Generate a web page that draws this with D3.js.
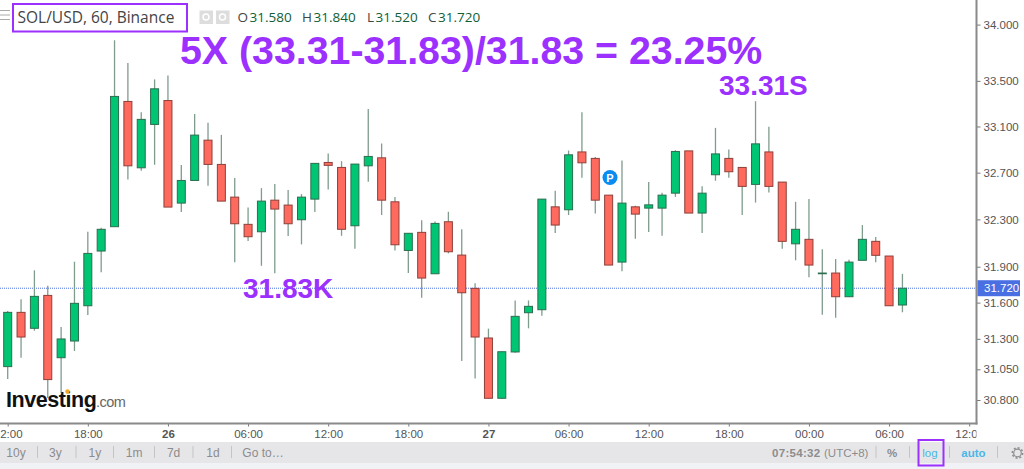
<!DOCTYPE html>
<html>
<head>
<meta charset="utf-8">
<script src="https://cdn.jsdelivr.net/npm/d3@7"></script>
<style>
  html, body { margin: 0; padding: 0; background: #fff; overflow: hidden; }
  svg { display: block; }
  text { font-family: "Liberation Sans", Arial, sans-serif; }
  .head { font-family: "Open Sans", sans-serif; }
</style>
</head>
<body>
<div id="container"></div>
<script>
/* DATA */
const opens = [31.072,31.519,31.387,31.660,31.145,31.282,31.574,32.032,32.238,33.319,32.742,33.118,33.327,32.439,32.633,32.981,32.771,32.490,32.258,32.195,32.464,32.422,32.297,32.473,32.788,32.745,32.246,32.759,32.828,32.450,32.037,32.190,31.841,32.280,31.998,31.719,31.307,30.814,31.192,31.516,31.541,32.407,32.382,32.879,32.823,32.507,31.939,32.407,32.396,32.396,32.524,32.888,32.354,32.682,32.823,32.745,32.599,32.879,32.619,32.093,32.131,31.841,31.847,31.649,31.954,32.114,31.990,31.58];
const highs = [31.530,31.627,31.870,31.741,31.398,31.942,32.195,32.229,33.860,33.659,33.225,33.513,33.548,32.765,33.208,33.132,33.027,32.653,32.402,32.567,32.602,32.550,32.516,32.782,32.866,32.799,32.774,33.252,32.952,32.492,32.184,32.292,32.283,32.365,32.216,31.761,31.384,31.194,31.618,31.618,32.473,32.544,32.891,33.225,32.836,32.507,32.805,32.416,32.619,32.527,32.894,32.888,32.584,33.088,32.900,32.745,33.321,33.097,32.619,32.450,32.475,32.048,31.965,31.959,32.252,32.150,31.990,31.84];
const lows = [30.971,31.145,31.367,30.816,30.857,31.200,31.497,31.853,32.238,32.642,32.716,32.768,32.405,32.362,32.633,32.587,32.456,31.937,32.116,31.908,31.845,32.159,32.088,32.362,32.556,32.161,32.051,32.621,32.337,32.037,31.847,31.640,31.841,32.012,31.118,30.974,30.811,30.808,31.186,31.387,31.491,32.184,32.337,32.656,32.351,31.914,31.862,32.136,32.193,32.161,32.492,32.354,32.184,32.630,32.656,32.337,32.444,32.530,32.051,31.954,31.811,31.500,31.475,31.649,31.954,31.937,31.574,31.52];
const closes = [31.519,31.315,31.652,30.966,31.299,31.594,32.012,32.216,33.363,32.759,33.162,33.430,32.405,32.633,33.025,32.771,32.456,32.263,32.153,32.456,32.388,32.263,32.490,32.780,32.763,32.216,32.774,32.840,32.464,32.085,32.182,31.805,32.266,32.026,31.682,31.315,30.814,31.194,31.486,31.569,32.473,32.252,32.854,32.785,32.464,31.914,32.439,32.345,32.424,32.507,32.883,32.354,32.524,32.862,32.708,32.582,32.949,32.582,32.114,32.216,31.914,31.847,31.649,31.939,32.131,31.996,31.574,31.72];

const priceTicks = [34, 33.5, 33.1, 32.7, 32.3, 31.9, 31.6, 31.3, 31.05, 30.8];
const timeLabels = ["12:00","18:00","26","06:00","12:00","18:00","27","06:00","12:00","18:00","00:00","06:00","12:00"];
const lastPrice = 31.72;
const rangeButtons = ["10y","3y","1y","1m","7d","1d","Go to…"];

/* CONSTANTS AND GLOBALS */
const width = 1024;
const height = 469;
const plotRight = 976.5;
const plotBottom = 423.5;
const purple = "#9B30FF";

/* SCALES */
const xScale = d3.scaleLinear()
  .domain([0, 72]) // one hourly bar per step
  .range([7.7, 969.2]);

const yScale = d3.scaleLog()
  .domain([30.8, 34])
  .range([400, 24.6]);

const candles = opens.map((o, i) => ({i, o, h: highs[i], l: lows[i], c: closes[i]}));

/* HTML ELEMENTS */
const svg = d3.select("#container")
  .append("svg")
  .attr("width", width)
  .attr("height", height);

// last price line
svg.append("line")
  .attr("x1", 0).attr("x2", plotRight)
  .attr("y1", yScale(lastPrice)).attr("y2", yScale(lastPrice))
  .attr("stroke", "#4a6fe0")
  .attr("stroke-dasharray", "1,1");

// wicks
svg.selectAll("line.wick")
  .data(candles)
  .join("line")
  .attr("class", "wick")
  .attr("x1", d => xScale(d.i)).attr("x2", d => xScale(d.i))
  .attr("y1", d => yScale(d.h)).attr("y2", d => yScale(d.l))
  .attr("stroke", "#7F9C8D")
  .attr("stroke-width", 1.3);

// bodies
svg.selectAll("rect.body")
  .data(candles)
  .join("rect")
  .attr("class", "body")
  .attr("x", d => xScale(d.i) - 4)
  .attr("width", 8)
  .attr("y", d => yScale(Math.max(d.o, d.c)))
  .attr("height", d => Math.max(0.5, Math.abs(yScale(d.o) - yScale(d.c))))
  .attr("fill", d => d.c >= d.o ? "#00C573" : "#FF6A5E")
  .attr("stroke", d => d.c >= d.o ? "#2B6E50" : "#8E3F39")
  .attr("stroke-width", 1);

// y-axis
const yAxis = d3.axisRight(yScale)
  .tickValues(priceTicks)
  .tickFormat(d3.format(".3f"))
  .tickSize(4)
  .tickPadding(3);
const yG = svg.append("g")
  .attr("transform", `translate(${plotRight}, 0)`)
  .call(yAxis);
yG.select(".domain").remove();
yG.selectAll("line").attr("stroke", "#777");
yG.selectAll("text").attr("fill", "#555").style("font-size", "11.5px");

svg.append("line")
  .attr("x1", plotRight).attr("x2", plotRight)
  .attr("y1", 0).attr("y2", plotBottom + 1)
  .attr("stroke", "#8A8A8A").attr("stroke-width", 2);

// x-axis
svg.append("clipPath").attr("id", "x-clip")
  .append("rect").attr("x", 0).attr("y", -5).attr("width", plotRight).attr("height", 30);
const xAxis = d3.axisBottom(xScale)
  .tickValues(d3.range(0, 73, 6))
  .tickFormat((d, i) => timeLabels[i])
  .tickSize(3)
  .tickPadding(3);
const xG = svg.append("g")
  .attr("transform", `translate(0, ${plotBottom})`)
  .attr("clip-path", "url(#x-clip)")
  .call(xAxis);
xG.select(".domain").remove();
xG.selectAll("line").attr("stroke", "#777");
xG.selectAll("text")
  .attr("fill", "#555")
  .style("font-size", "11.5px")
  .style("font-weight", (d, i) => /:/.test(timeLabels[i]) ? "normal" : "bold");

svg.append("line")
  .attr("x1", 0).attr("x2", plotRight + 1)
  .attr("y1", plotBottom).attr("y2", plotBottom)
  .attr("stroke", "#8A8A8A").attr("stroke-width", 2);

// last price tag
svg.append("rect")
  .attr("x", 977.5).attr("y", yScale(lastPrice) - 8)
  .attr("width", 42.5).attr("height", 16)
  .attr("fill", "#4A6FE3");
svg.append("text")
  .attr("x", 984).attr("y", yScale(lastPrice) + 4)
  .attr("fill", "white").style("font-size", "11.5px")
  .text(d3.format(".3f")(lastPrice));

// pivot badge
svg.append("circle").attr("cx", 610).attr("cy", 177.5).attr("r", 7.5).attr("fill", "#0A8CF0");
svg.append("text")
  .attr("x", 610).attr("y", 181.5)
  .attr("text-anchor", "middle").attr("fill", "white")
  .style("font-size", "11px").style("font-weight", "bold")
  .text("P");

// header
svg.append("g").selectAll("line")
  .data([10.5, 15, 19.5])
  .join("line")
  .attr("x1", 0).attr("x2", 10)
  .attr("y1", d => d).attr("y2", d => d)
  .attr("stroke", "#aaa");

svg.append("rect")
  .attr("x", 13).attr("y", 4)
  .attr("width", 174).attr("height", 27.5)
  .attr("fill", "white").attr("stroke", purple).attr("stroke-width", 2);
svg.append("text").attr("class", "head")
  .attr("x", 17.5).attr("y", 22.5)
  .attr("fill", "#444").style("font-size", "15.5px")
  .text("SOL/USD, 60, Binance");

svg.append("g").selectAll("rect")
  .data([0, 1])
  .join("rect")
  .attr("x", d => 199.5 + d * 16.5).attr("y", 10.5)
  .attr("width", 13.5).attr("height", 13.5)
  .attr("fill", "#DDD");
svg.append("g").selectAll("circle")
  .data([0, 1])
  .join("circle")
  .attr("cx", d => 206 + d * 16.5).attr("cy", 17)
  .attr("r", 3).attr("fill", "none").attr("stroke", "white").attr("stroke-width", 1.5);

const ohlc = [["O", opens, 237.5], ["H", highs, 302], ["L", lows, 367], ["C", closes, 428]];
ohlc.forEach(([k, arr, x]) => {
  const row = svg.append("text").attr("class", "head").attr("x", x).attr("y", 22).style("font-size", "13.5px");
  row.append("tspan").attr("fill", "#444").text(k);
  row.append("tspan").attr("fill", "#0F5E36").attr("dx", 1.5).text(d3.format(".3f")(arr[arr.length - 1]));
});

// annotations
svg.append("text")
  .attr("x", 180).attr("y", 64)
  .attr("fill", purple).style("font-size", "39.3px").style("font-weight", "bold")
  .text("5X (33.31-31.83)/31.83 = 23.25%");
svg.append("text")
  .attr("x", 719).attr("y", 95)
  .attr("fill", purple).style("font-size", "28px").style("font-weight", "bold")
  .text("33.31S");
svg.append("text")
  .attr("x", 243).attr("y", 298)
  .attr("fill", purple).style("font-size", "28px").style("font-weight", "bold")
  .text("31.83K");

// logo
svg.append("text")
  .attr("x", 6).attr("y", 407)
  .attr("fill", "#111").style("font-size", "21.5px").style("font-weight", "bold").style("letter-spacing", "-0.45px")
  .text("Investing");
svg.append("text")
  .attr("x", 96).attr("y", 407)
  .attr("fill", "#666").style("font-size", "14.5px").style("letter-spacing", "-0.5px")
  .text(".com");
svg.append("circle").attr("cx", 67.5).attr("cy", 391.5).attr("r", 2.2).attr("fill", "#F5A623");

// footer
svg.append("rect").attr("x", 0).attr("y", 442).attr("width", width).attr("height", 27).attr("fill", "#F1F2F6");
svg.append("rect").attr("x", 0).attr("y", 442).attr("width", width).attr("height", 21).attr("fill", "#E6E6E9");

const buttonX = d3.scalePoint().domain(rangeButtons.slice(0, 6)).range([16, 213]);
svg.append("g").selectAll("text")
  .data(rangeButtons)
  .join("text")
  .attr("x", d => d === "Go to…" ? 263 : buttonX(d))
  .attr("y", 457)
  .attr("text-anchor", "middle")
  .attr("fill", "#8C8C8C")
  .style("font-size", "12px")
  .text(d => d);

svg.append("g").selectAll("line")
  .data([37.5, 76, 113.5, 154.5, 193, 231.5, 876, 909.5, 949.5, 997.5])
  .join("line")
  .attr("x1", d => d).attr("x2", d => d)
  .attr("y1", 446).attr("y2", 458)
  .attr("stroke", "#C4C4C4");

svg.append("text").attr("x", 772).attr("y", 457)
  .attr("fill", "#8C8C8C").style("font-size", "11.5px").style("font-weight", "bold").style("letter-spacing", "0.3px")
  .text("07:54:32");
svg.append("text").attr("x", 824).attr("y", 457)
  .attr("fill", "#8C8C8C").style("font-size", "11.5px")
  .text("(UTC+8)");
svg.append("text").attr("x", 892).attr("y", 457).attr("text-anchor", "middle")
  .attr("fill", "#8C8C8C").style("font-size", "11.5px").style("font-weight", "bold")
  .text("%");
svg.append("text").attr("x", 930).attr("y", 457).attr("text-anchor", "middle")
  .attr("fill", "#4BB7E6").style("font-size", "11.5px")
  .text("log");
svg.append("text").attr("x", 973.5).attr("y", 457).attr("text-anchor", "middle")
  .attr("fill", "#4BB7E6").style("font-size", "11.5px").style("font-weight", "bold")
  .text("auto");
svg.append("rect")
  .attr("x", 918.5).attr("y", 440)
  .attr("width", 25).attr("height", 25.5)
  .attr("fill", "none").attr("stroke", purple).attr("stroke-width", 2);
svg.append("circle")
  .attr("cx", 1017.5).attr("cy", 453).attr("r", 3.8)
  .attr("fill", "none").attr("stroke", "#8C8C8C").attr("stroke-width", 1.2);
svg.append("circle")
  .attr("cx", 1017.5).attr("cy", 453).attr("r", 5.2)
  .attr("fill", "none").attr("stroke", "#8C8C8C").attr("stroke-width", 1.5).attr("stroke-dasharray", "2,2");
</script>
</body>
</html>
